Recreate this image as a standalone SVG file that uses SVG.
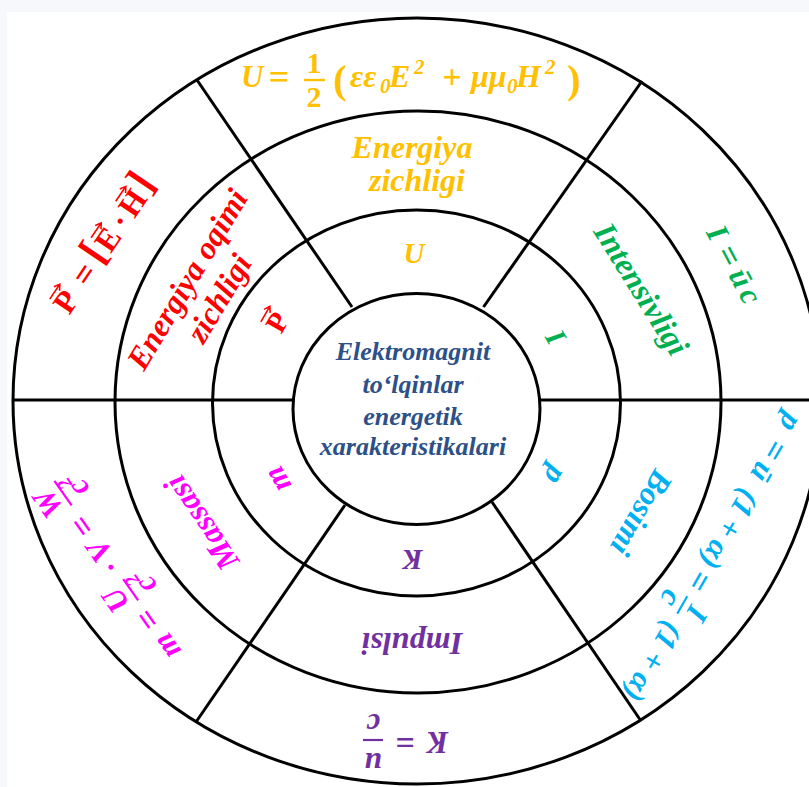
<svg xmlns="http://www.w3.org/2000/svg" width="809" height="787" viewBox="0 0 809 787">
<defs>
<style>
.ln{fill:none;stroke:#000;stroke-width:3}
.t{font-family:"Liberation Serif","Times New Roman",serif;font-weight:bold;text-anchor:middle}
.i{font-style:italic}
.w{font-size:32px}
.s{font-size:31px}
.eq{font-size:34px}
.gold{fill:#FFC000}
.red{fill:#FF0000}
.green{fill:#00B050}
.cyan{fill:#00B0F0}
.mag{fill:#FF00FF}
.pur{fill:#7030A0}
.blue{fill:#2C5087}
.st{text-anchor:start}
</style>
<path id="vec" d="M-9,0H8M3.5,-3.5L9,0L3.5,3.5" fill="none" stroke="#FF0000" stroke-width="1.6"/>
</defs>
<rect x="0" y="0" width="809" height="787" fill="#f7f8fb"/>
<rect x="7" y="12" width="802" height="775" fill="#ffffff"/>

<g id="rings" class="ln">
<ellipse cx="417" cy="401" rx="404" ry="383"/>
<ellipse cx="418" cy="402" rx="303" ry="291"/>
<ellipse cx="416.5" cy="403" rx="204" ry="193"/>
<ellipse cx="416.5" cy="409" rx="123.5" ry="115.5"/>
</g>

<g id="connectors" class="ln">
<line x1="13" y1="400" x2="293" y2="400"/>
<line x1="540" y1="400" x2="809" y2="400"/>
<line x1="352" y1="307" x2="197" y2="80"/>
<line x1="483.5" y1="307" x2="642" y2="81"/>
<line x1="345" y1="505" x2="196" y2="722"/>
<line x1="492" y1="502" x2="641" y2="721"/>
</g>

<g id="center">
<text class="t i blue" font-size="26" x="413" y="360">Elektromagnit</text>
<text class="t i blue" font-size="26" x="413" y="393">to‘lqinlar</text>
<text class="t i blue" font-size="26" x="413" y="425">energetik</text>
<text class="t i blue" font-size="26" x="413" y="455">xarakteristikalari</text>
</g>

<g id="energy-density">
<text class="t i gold st" font-size="31" x="241" y="87">U</text>
<text class="t gold" font-size="36" x="279" y="89">=</text>
<text class="t gold" font-size="30" x="314" y="73">1</text>
<line x1="304" y1="80" x2="325" y2="80" stroke="#FFC000" stroke-width="2.4"/>
<text class="t gold" font-size="30" x="314" y="107">2</text>
<text class="t gold" font-size="40" x="340" y="93">(</text>
<text class="t i gold st" font-size="32" x="350" y="87">εε</text>
<text class="t i gold st" font-size="21" x="380" y="93">0</text>
<text class="t i gold st" font-size="32" x="389" y="87">E</text>
<text class="t i gold st" font-size="21" x="414" y="74">2</text>
<text class="t gold" font-size="34" x="452" y="88">+</text>
<text class="t i gold st" font-size="32" x="471" y="87">μμ</text>
<text class="t i gold st" font-size="21" x="507" y="93">0</text>
<text class="t i gold st" font-size="32" x="516" y="87">H</text>
<text class="t i gold st" font-size="21" x="545" y="74">2</text>
<text class="t gold" font-size="40" x="574" y="93">)</text>
<text class="t i w gold" x="412" y="158">Energiya</text>
<text class="t i w gold" x="417" y="191">zichligi</text>
<text class="t i gold" font-size="29" x="414" y="263">U</text>
</g>

<g id="flux-density">
<g transform="translate(103,247) rotate(-56)">
<text class="t red" font-size="32" x="-66" y="10.5">P</text>
<use href="#vec" transform="translate(-64,-15)"/>
<text class="t red" font-size="34" x="-33" y="11">=</text>
<text class="t red" font-size="42" x="-10" y="8">[</text>
<text class="t red" font-size="32" x="9" y="10.5">E</text>
<use href="#vec" transform="translate(10,-15)"/>
<text class="t red" font-size="32" x="31" y="10.5">·</text>
<text class="t red" font-size="32" x="53" y="10.5">H</text>
<use href="#vec" transform="translate(54,-15)"/>
<text class="t red" font-size="42" x="75" y="8">]</text>
</g>
<g transform="translate(205,290) rotate(-59)">
<text class="t i w red" x="0" y="-10">Energiya oqimi</text>
<text class="t i w red" x="0" y="27">zichligi</text>
</g>
<g transform="translate(277,322) rotate(-60)">
<text class="t red" font-size="29" x="0" y="10">P</text>
<use href="#vec" transform="translate(1,-14)"/>
</g>
</g>

<g id="intensity">
<text class="t i green" font-size="29" transform="translate(556,337) rotate(60)" x="0" y="10">I</text>
<text class="t i w green" transform="translate(640,290) rotate(58)" x="0" y="9">Intensivligi</text>
<g transform="translate(733,263) rotate(62)">
<text class="t i s green" x="-34" y="10">I</text>
<text class="t eq green" x="-8" y="11">=</text>
<text class="t i s green" x="17" y="10">ū</text>
<text class="t i s green" x="37" y="10">c</text>
</g>
</g>

<g id="pressure">
<text class="t i cyan" font-size="31" transform="translate(553,474) rotate(120)" x="0" y="7">p</text>
<text class="t i w cyan" transform="translate(640,512) rotate(120)" x="0" y="9">Bosimi</text>
<g transform="translate(714,554) rotate(120)">
<text class="t i s cyan" x="-152" y="9">p</text>
<text class="t eq cyan" x="-120" y="10">=</text>
<text class="t i s cyan" x="-95" y="9">ū</text>
<text class="t i s cyan" x="-29" y="9">(1 + α)</text>
<text class="t eq cyan" x="31" y="10">=</text>
<text class="t i s cyan" x="60" y="-5">I</text>
<line x1="50" y1="2" x2="70" y2="2" stroke="#00B0F0" stroke-width="2.2"/>
<text class="t i s cyan" x="60" y="25">c</text>
<text class="t i s cyan" x="124" y="9">(1 + α)</text>
</g>
</g>

<g id="momentum">
<text class="t i pur" font-size="29" transform="translate(413,560) rotate(180)" x="0" y="10">K</text>
<text class="t i w pur" transform="translate(412,643) rotate(180)" x="0" y="10">Impulsi</text>
<g transform="translate(407,742) rotate(180)">
<text class="t i s pur" x="-31" y="10">K</text>
<text class="t eq pur" x="2" y="11">=</text>
<text class="t i s pur" x="34" y="-11">u</text>
<line x1="24" y1="2" x2="44" y2="2" stroke="#7030A0" stroke-width="2.2"/>
<text class="t i s pur" x="34" y="28">c</text>
</g>
</g>

<g id="mass">
<text class="t i mag" font-size="31" transform="translate(280,478) rotate(-120)" x="0" y="7">m</text>
<text class="t i w mag" transform="translate(203,522) rotate(-124)" x="0" y="9">Massasi</text>
<g transform="translate(113,568) rotate(-125)">
<text class="t i s mag" x="-95" y="9">m</text>
<text class="t eq mag" x="-62" y="10">=</text>
<text class="t i s mag" x="-28" y="-6">U</text>
<line x1="-41" y1="2" x2="-15" y2="2" stroke="#FF00FF" stroke-width="2.2"/>
<text class="t i s mag" x="-28" y="27">c<tspan font-size="19" dy="-12">2</tspan></text>
<text class="t s mag" x="2" y="9">·</text>
<text class="t i s mag" x="22" y="9">V</text>
<text class="t eq mag" x="52" y="10">=</text>
<text class="t i s mag" x="90" y="-6">W</text>
<line x1="75" y1="2" x2="105" y2="2" stroke="#FF00FF" stroke-width="2.2"/>
<text class="t i s mag" x="90" y="27">c<tspan font-size="19" dy="-12">2</tspan></text>
</g>
</g>
</svg>
